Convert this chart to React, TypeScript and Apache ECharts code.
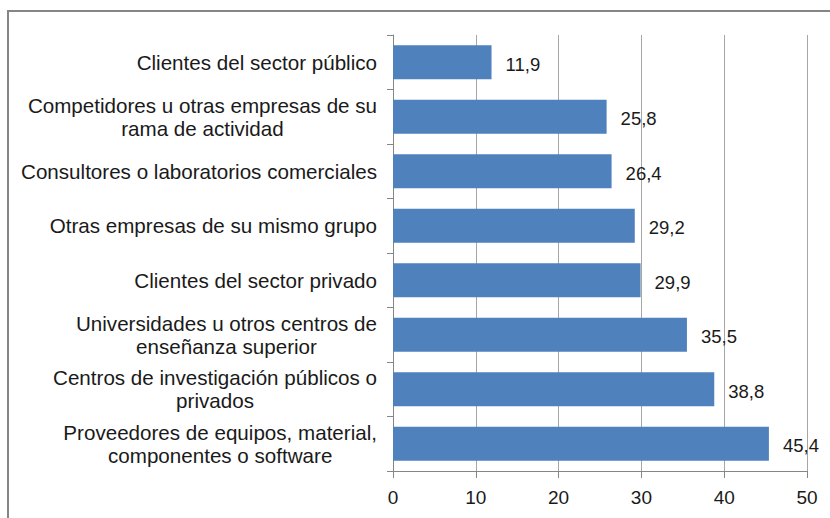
import React, { useEffect, useRef } from "react";
import * as echarts from "echarts";

const categories: string[] = [
  "Clientes del sector público",
  "Competidores u otras empresas de su\nrama de actividad",
  "Consultores o laboratorios comerciales",
  "Otras empresas de su mismo grupo",
  "Clientes del sector privado",
  "Universidades u otros centros de\nenseñanza superior",
  "Centros de investigación públicos o\nprivados",
  "Proveedores de equipos, material,\ncomponentes o software",
];
const values: number[] = [11.9, 25.8, 26.4, 29.2, 29.9, 35.5, 38.8, 45.4];
const axisMin = 0;
const axisMax = 50;
const axisInterval = 10;

const FONT = "Arial, 'Liberation Sans', sans-serif";

export default function App() {
  const ref = useRef<HTMLDivElement>(null);
  useEffect(() => {
    document.body.style.margin = "0";
    const chart = echarts.init(ref.current!, null, { renderer: "svg" });
    chart.setOption({
      animation: false,
      backgroundColor: "#ffffff",
      graphic: [
        {
          type: "rect",
          shape: { x: 8, y: 11, width: 840, height: 540 },
          style: { fill: "none", stroke: "#868686", lineWidth: 2 },
          silent: true,
        },
      ],
      grid: { left: 393, right: 23, top: 35, bottom: 47, containLabel: false },
      xAxis: {
        type: "value",
        min: axisMin,
        max: axisMax,
        interval: axisInterval,
        axisLine: { show: true, lineStyle: { color: "#868686", width: 1 } },
        axisTick: { show: true, length: 7, lineStyle: { color: "#868686" } },
        splitLine: { show: true, lineStyle: { color: "#a6a6a6", width: 1 } },
        axisLabel: {
          margin: 17,
          fontSize: 19,
          color: "#1a1a1a",
          fontFamily: FONT,
        },
      },
      yAxis: {
        type: "category",
        inverse: true,
        data: categories,
        axisLine: { show: true, lineStyle: { color: "#868686", width: 1 } },
        axisTick: { show: true, length: 6, lineStyle: { color: "#868686" } },
        axisLabel: {
          margin: 16,
          fontSize: 20.6,
          lineHeight: 23,
          color: "#1a1a1a",
          fontFamily: FONT,
          formatter: (v: string) =>
            v
              .split("\n")
              .map((l) => "{c|" + l + "}")
              .join("\n"),
          rich: {
            c: {
              align: "center",
              fontSize: 20.6,
              lineHeight: 23,
              color: "#1a1a1a",
              fontFamily: FONT,
            },
          },
        },
      },
      series: [
        {
          type: "bar",
          data: values,
          barWidth: 34,
          itemStyle: { color: "#4f81bd" },
          label: {
            show: true,
            position: "right",
            distance: 14,
            fontSize: 18.5,
            color: "#1a1a1a",
            fontFamily: FONT,
            offset: [0, 2],
            formatter: (p: any) => String(p.value).replace(".", ","),
          },
        },
      ],
    });
    return () => chart.dispose();
  }, []);
  return (
    <div
      ref={ref}
      style={{ position: "absolute", left: 0, top: 0, width: 830, height: 518 }}
    />
  );
}
